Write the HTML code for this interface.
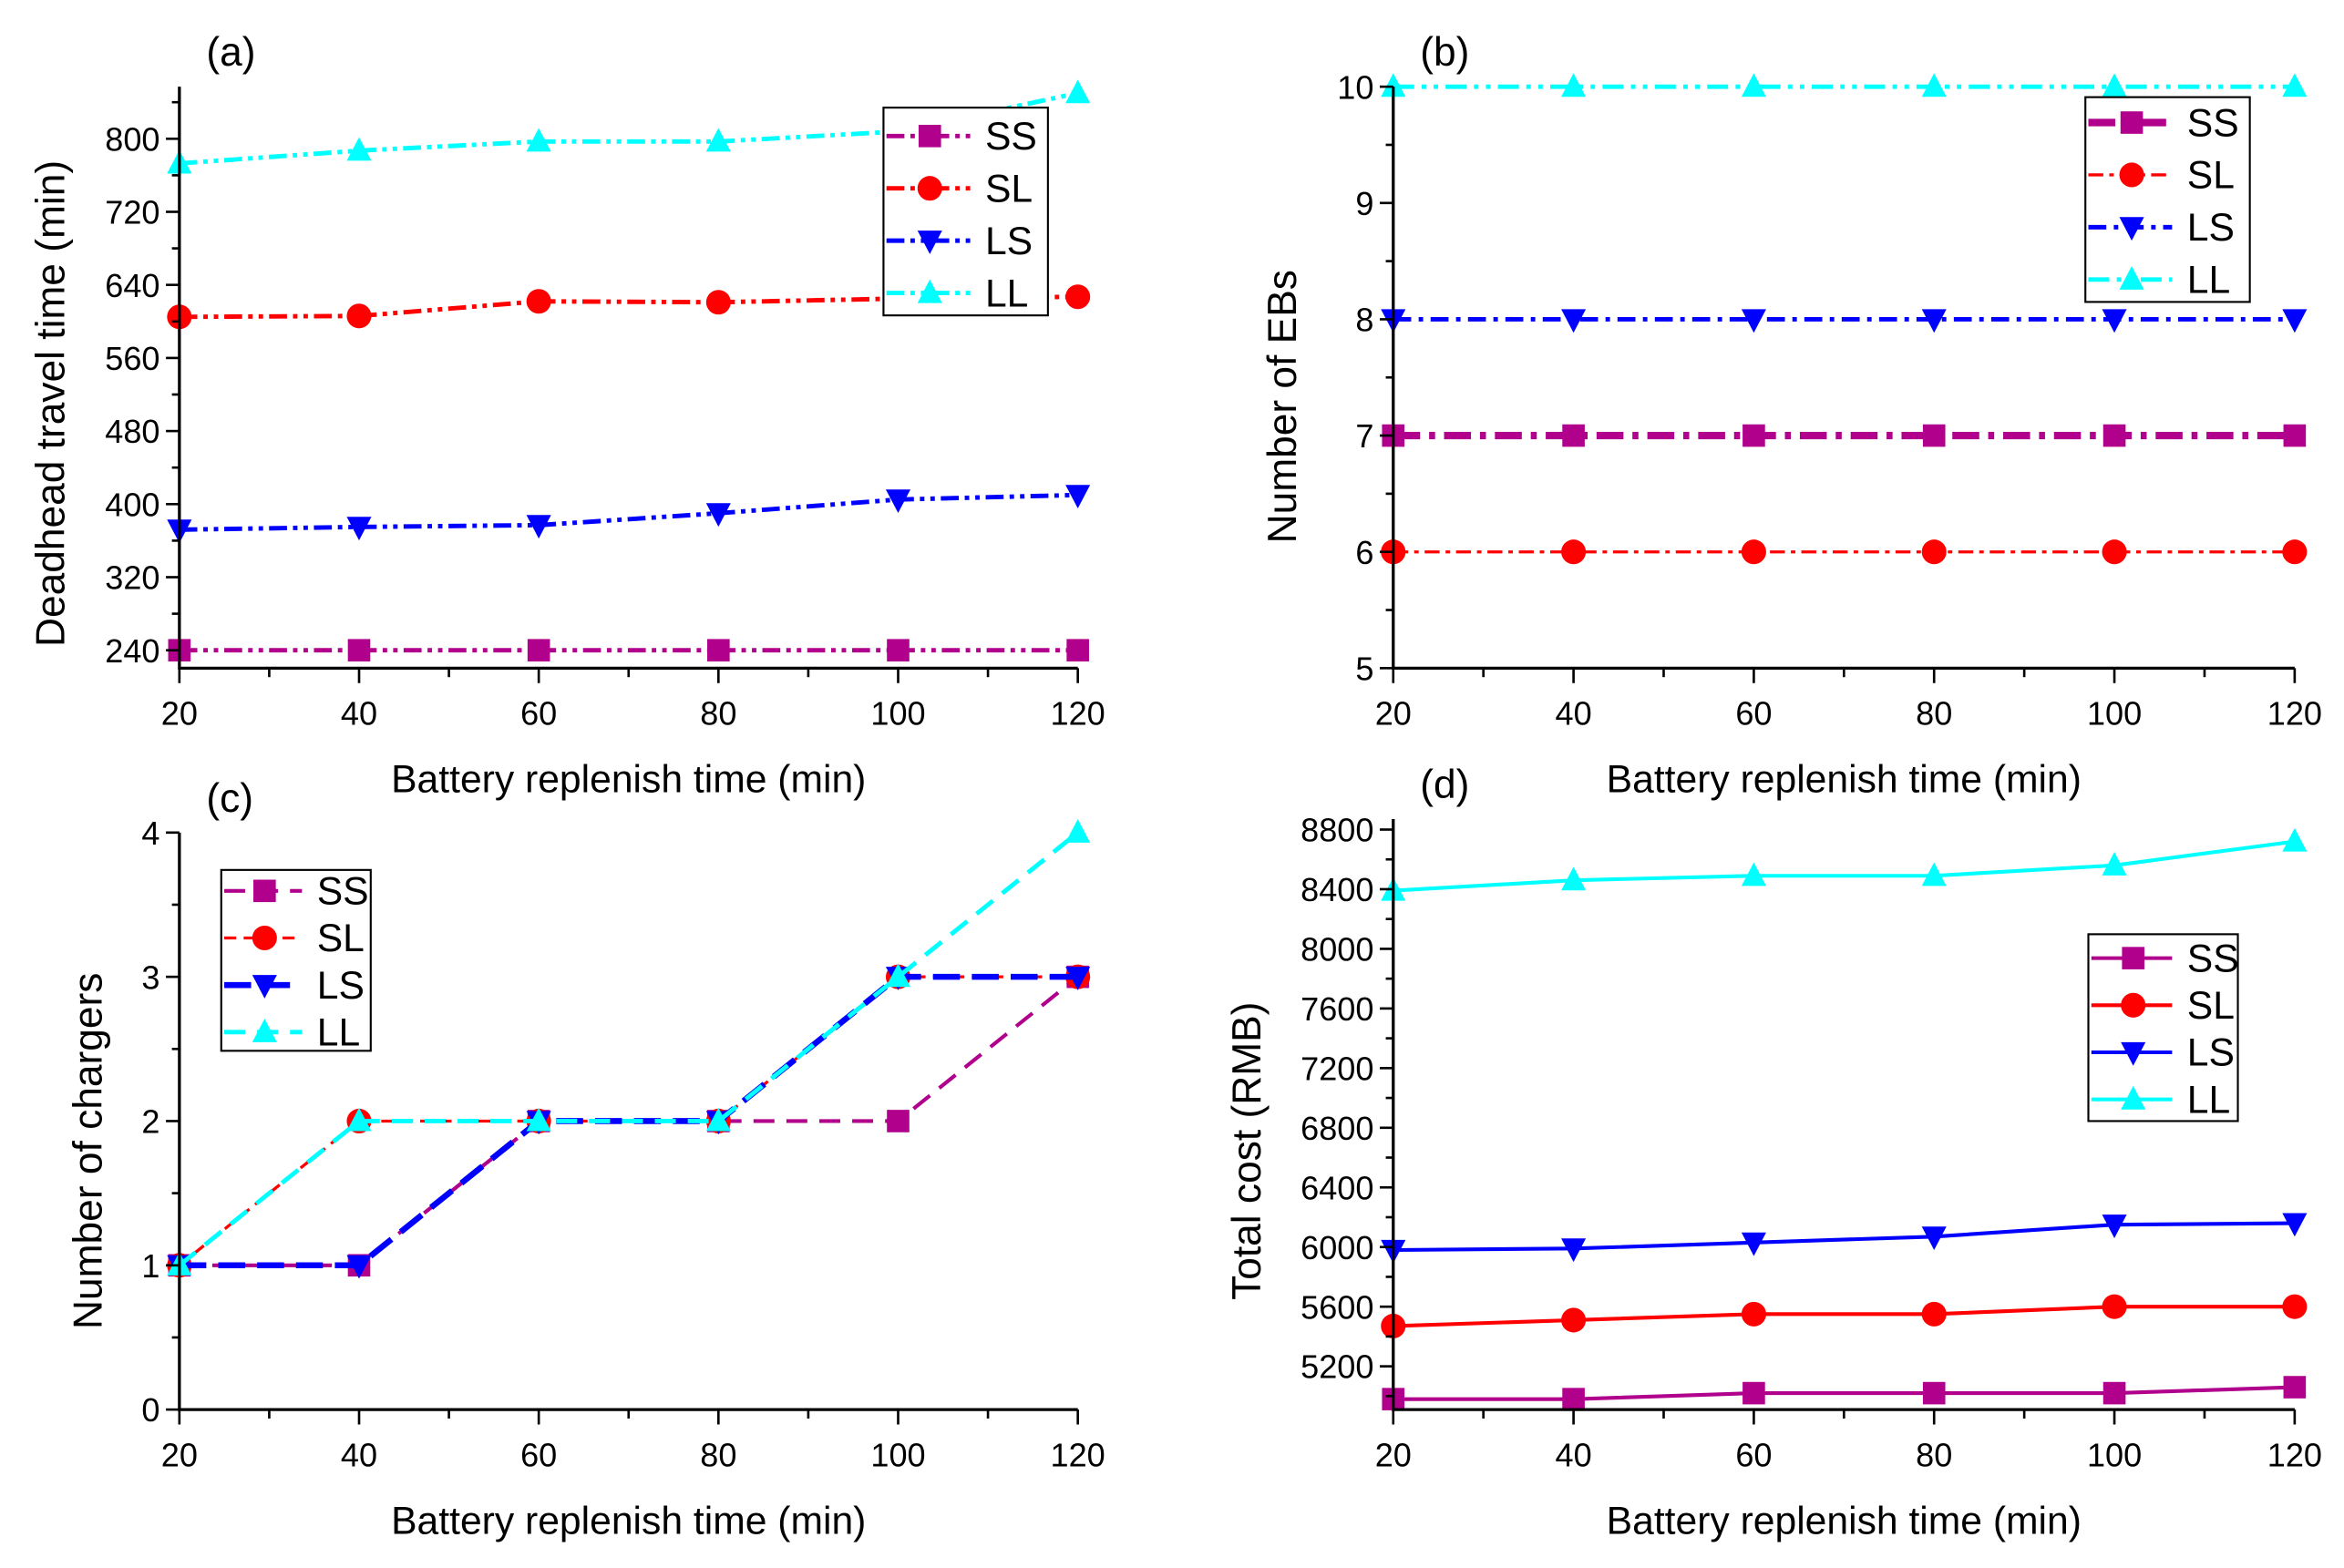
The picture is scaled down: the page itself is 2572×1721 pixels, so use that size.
<!DOCTYPE html>
<html><head><meta charset="utf-8"><style>
html,body{margin:0;padding:0;background:#fff}
svg{display:block}
text{font-family:"Liberation Sans Narrow","Liberation Sans",sans-serif;fill:#000}
.t{font-family:"Liberation Sans",sans-serif}
</style></head><body>
<svg id="fig" width="2572" height="1721" viewBox="0 0 1568 1049" preserveAspectRatio="none" xmlns="http://www.w3.org/2000/svg"></svg>
<script>
const xCats = [20, 40, 60, 80, 100, 120];
const seriesNames = ["SS", "SL", "LS", "LL"];
const colors = ["#b0008c", "#ff0000", "#0000ff", "#00ffff"];
// (a) Deadhead travel time
const aSS = [240, 240, 240, 240, 240, 240];
const aSL = [605, 606, 622, 621, 625, 627];
const aLS = [372, 375, 377, 390, 405, 410];
const aLL = [773, 787, 797, 797, 808, 850];
const aTicks = [240, 320, 400, 480, 560, 640, 720, 800];
// (b) Number of EBs
const bSS = [7, 7, 7, 7, 7, 7];
const bSL = [6, 6, 6, 6, 6, 6];
const bLS = [8, 8, 8, 8, 8, 8];
const bLL = [10, 10, 10, 10, 10, 10];
const bTicks = [5, 6, 7, 8, 9, 10];
// (c) Number of chargers
const cSS = [1, 1, 2, 2, 2, 3];
const cSL = [1, 2, 2, 2, 3, 3];
const cLS = [1, 1, 2, 2, 3, 3];
const cLL = [1, 2, 2, 2, 3, 4];
const cTicks = [0, 1, 2, 3, 4];
// (d) Total cost
const dSS = [4980, 4980, 5020, 5020, 5020, 5060];
const dSL = [5470, 5510, 5550, 5550, 5600, 5600];
const dLS = [5980, 5990, 6030, 6070, 6150, 6160];
const dLL = [8390, 8460, 8490, 8490, 8560, 8720];
const dTicks = [5200, 5600, 6000, 6400, 6800, 7200, 7600, 8000, 8400, 8800];

const NS = "http://www.w3.org/2000/svg";
const svg = document.getElementById("fig");
function mk(tag, attrs, parent) {
  const e = document.createElementNS(NS, tag);
  for (const k in attrs) e.setAttribute(k, attrs[k]);
  (parent || svg).appendChild(e);
  return e;
}
function marker(g, i, x, y, r) {
  let m;
  if (i === 0) m = mk("rect", {x: x - r, y: y - r, width: 2 * r, height: 2 * r, fill: colors[i]}, g);
  else if (i === 1) m = mk("circle", {cx: x, cy: y, r: r * 1.1, fill: colors[i]}, g);
  else if (i === 2) m = mk("path", {d: `M${x - r * 1.1},${y - r * 0.9}L${x + r * 1.1},${y - r * 0.9}L${x},${y + r * 1.2}Z`, fill: colors[i]}, g);
  else m = mk("path", {d: `M${x - r * 1.1},${y + r * 0.9}L${x + r * 1.1},${y + r * 0.9}L${x},${y - r * 1.2}Z`, fill: colors[i]}, g);
  
  
}
function panel(cfg) {
  const g = mk("g", {});
  
  
  const X = v => cfg.x0 + (v - 20) / 100 * (cfg.x1 - cfg.x0);
  const Y = v => cfg.yb - (v - cfg.vmin) / (cfg.vmax - cfg.vmin) * (cfg.yb - cfg.yt);
  cfg.data.forEach((arr, i) => {
    const sg = mk("g", {}, g);
    
    
    const pts = arr.map((v, j) => X(xCats[j]) + "," + Y(v)).join(" ");
    const pl = mk("polyline", {points: pts, fill: "none", stroke: colors[i], "stroke-width": cfg.sw[i], "stroke-dasharray": cfg.dash[i]}, sg);
    
    
    arr.forEach((v, j) => marker(sg, i, X(xCats[j]), Y(v), 7.5));
  });
  const ax = mk("path", {d: `M${cfg.x0},${cfg.yt}L${cfg.x0},${cfg.yb}L${cfg.x1},${cfg.yb}`, fill: "none", stroke: "#000", "stroke-width": 2}, g);
  
  
  for (let v = 20; v <= 120; v += 10) {
    const major = v % 20 === 0;
    mk("line", {x1: X(v), x2: X(v), y1: cfg.yb, y2: cfg.yb + (major ? 10 : 6), stroke: "#000", "stroke-width": 1.6}, g);
    if (major) {
      const t = mk("text", {x: X(v), y: cfg.yb + 38, "font-size": 22, "text-anchor": "middle"}, g);
      t.textContent = v;
      
      
    }
  }
  const tk = cfg.ticks, step = tk[1] - tk[0];
  for (let v = tk[0] - step; v <= tk[tk.length - 1] + step; v += step / 2) {
    const y = Y(v);
    if (y < cfg.yt - 1 || y > cfg.yb + 0.5) continue;
    const major = tk.includes(v);
    mk("line", {x1: cfg.x0, x2: cfg.x0 - (major ? 9 : 5), y1: y, y2: y, stroke: "#000", "stroke-width": 1.6}, g);
    if (major) {
      const t = mk("text", {x: cfg.x0 - 13, y: y + 8, "font-size": 22, "text-anchor": "end"}, g);
      t.textContent = v;
      
      
    }
  }
  const xt = mk("text", {x: (cfg.x0 + cfg.x1) / 2, y: cfg.yb + 83, "font-size": 26, "text-anchor": "middle", class: "t"}, g);
  xt.textContent = "Battery replenish time (min)";
  
  
  const yt = mk("text", {x: 0, y: 0, "font-size": 27, "text-anchor": "middle", class: "t", transform: `translate(${cfg.ytx},${cfg.yty}) rotate(-90)`}, g);
  yt.textContent = cfg.ytitle;
  
  
  const pl = mk("text", {x: cfg.x0 + 18, y: cfg.yt - 14, "font-size": 27, class: "t"}, g);
  pl.textContent = "(" + cfg.id + ")";
  
  
  const L = cfg.leg;
  const lg = mk("g", {}, g);
  
  
  mk("rect", {x: L.x, y: L.y, width: L.w, height: L.h, fill: "#fff", stroke: "#000", "stroke-width": 1.3}, lg);
  seriesNames.forEach((n, i) => {
    const yy = L.y + L.first + i * L.gap;
    const eg = mk("g", {}, lg);
    
    
    mk("line", {x1: L.x + 2, x2: L.x + L.lineW, y1: yy, y2: yy, stroke: colors[i], "stroke-width": cfg.sw[i], "stroke-dasharray": cfg.dash[i]}, eg);
    marker(eg, i, L.x + 2 + L.lineW / 2, yy, 7.5);
    const t = mk("text", {x: L.x + L.lineW + 10, y: yy + 9, "font-size": 26, class: "t"}, eg);
    t.textContent = n;
  });
}
panel({id: "a", x0: 120, x1: 721, yt: 58, yb: 447, vmin: 220.4, vmax: 857, ticks: aTicks,
  data: [aSS, aSL, aLS, aLL], sw: [3, 3, 3, 3], dash: ["12 4 3 4 3 4", "12 4 3 4 3 4", "12 4 3 4 3 4", "12 4 3 4 3 4"],
  ytitle: "Deadhead travel time (min)", ytx: 43, yty: 270,
  leg: {x: 591, y: 72, w: 110, h: 139, first: 19, gap: 35, lineW: 58}});
panel({id: "b", x0: 932, x1: 1535, yt: 58, yb: 447, vmin: 5, vmax: 10, ticks: bTicks,
  data: [bSS, bSL, bLS, bLL], sw: [5, 2, 3, 3], dash: ["18 6 4 6", "10 4 3 4", "12 5 3 5", "14 5 3 5 3 5"],
  ytitle: "Number of EBs", ytx: 867, yty: 272,
  leg: {x: 1395, y: 65, w: 110, h: 137, first: 17, gap: 35, lineW: 58}});
panel({id: "c", x0: 120, x1: 721, yt: 557, yb: 943, vmin: 0, vmax: 4, ticks: cTicks,
  data: [cSS, cSL, cLS, cLL], sw: [2.5, 2, 4, 3], dash: ["14 8", "8 5", "18 8", "14 8"],
  ytitle: "Number of chargers", ytx: 68, yty: 770,
  leg: {x: 148, y: 582, w: 100, h: 121, first: 14, gap: 31.5, lineW: 54}});
panel({id: "d", x0: 932, x1: 1535, yt: 548, yb: 943, vmin: 4910, vmax: 8870, ticks: dTicks,
  data: [dSS, dSL, dLS, dLL], sw: [2.5, 2.5, 2.5, 2.5], dash: ["none", "none", "none", "none"],
  ytitle: "Total cost (RMB)", ytx: 843, yty: 770,
  leg: {x: 1397, y: 625, w: 100, h: 125, first: 16, gap: 31.5, lineW: 56}});
</script>
</body></html>
